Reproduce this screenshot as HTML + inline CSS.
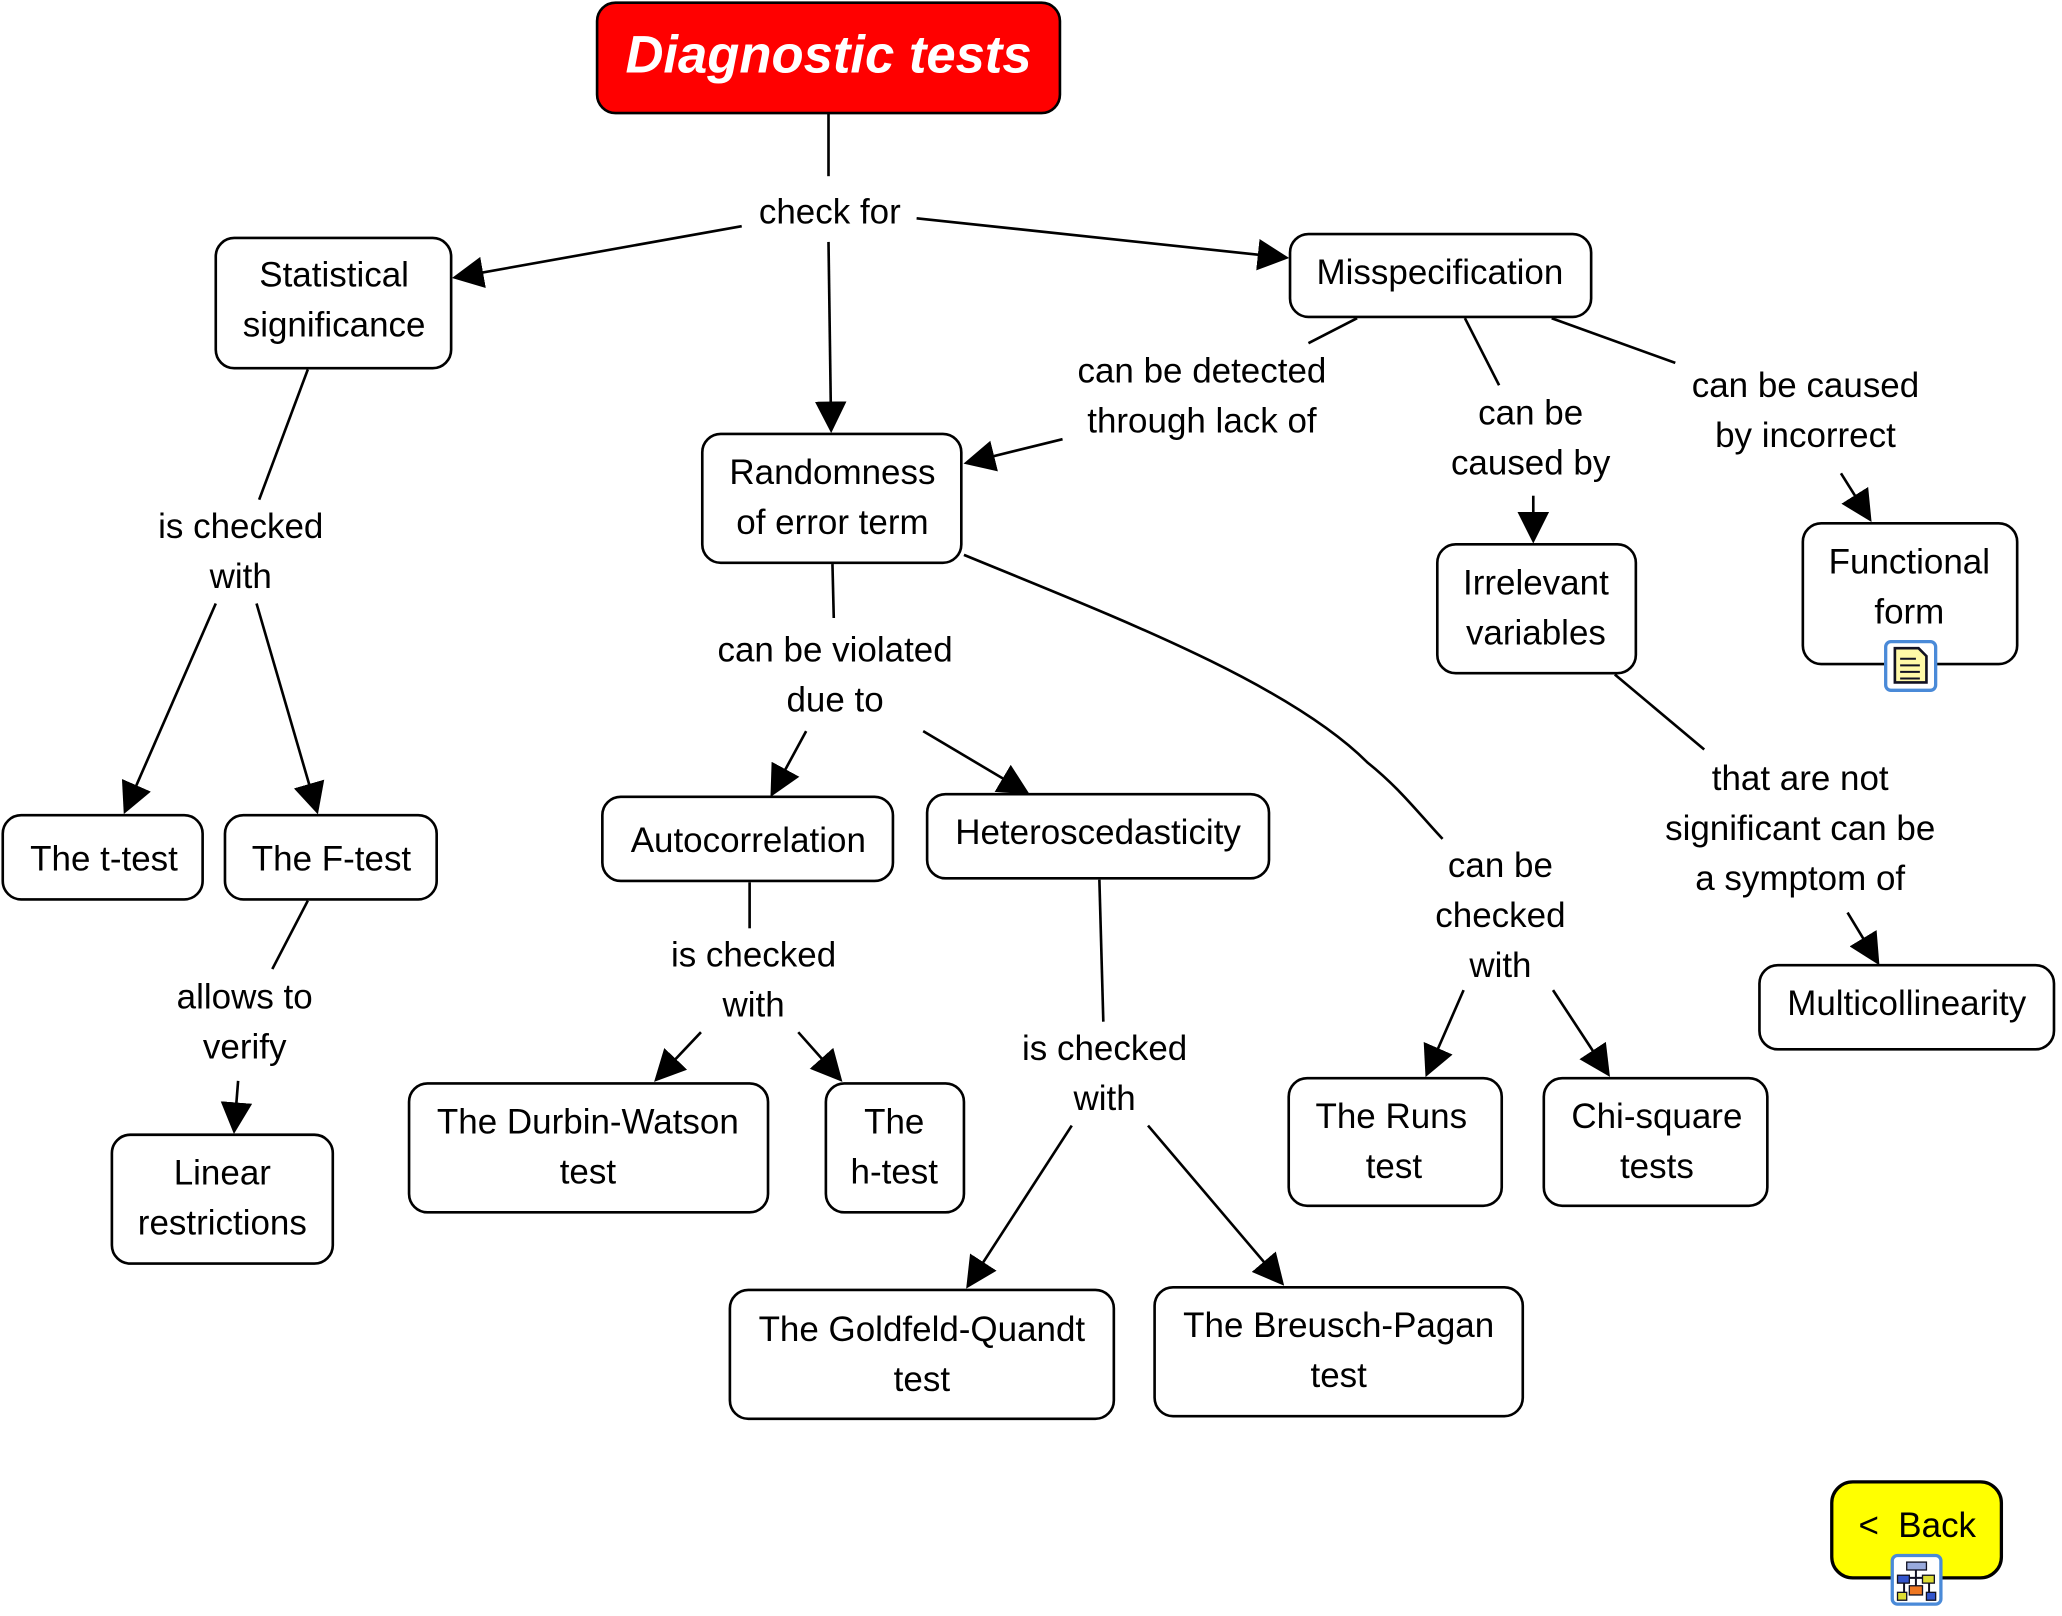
<!DOCTYPE html>
<html><head><meta charset="utf-8"><style>
html,body{margin:0;padding:0;background:#fff}
svg{display:block}
text{font-family:"Liberation Sans",Arial,sans-serif;font-size:26.6px;fill:#000;text-anchor:middle}
.b{fill:#fff;stroke:#000;stroke-width:2}
.l{stroke:#000;stroke-width:2;fill:none}
</style></head><body>
<svg width="2062" height="1616" viewBox="0 0 1568 1229" xmlns="http://www.w3.org/2000/svg">
<defs>
<marker id="A" viewBox="0 0 10 10" refX="9" refY="5" markerWidth="24" markerHeight="24" markerUnits="userSpaceOnUse" orient="auto"><path d="M0,0 L10,5 L0,10 z" fill="#000"/></marker></defs>
<g class="l">
<line x1="630" y1="86" x2="630" y2="134"/>
<line x1="564" y1="172" x2="346" y2="211" marker-end="url(#A)"/>
<line x1="697" y1="166" x2="978" y2="196" marker-end="url(#A)"/>
<line x1="630" y1="184" x2="632" y2="327" marker-end="url(#A)"/>
<line x1="234" y1="281" x2="197" y2="380"/>
<line x1="164" y1="459" x2="95" y2="617" marker-end="url(#A)"/>
<line x1="195" y1="459" x2="241" y2="617" marker-end="url(#A)"/>
<line x1="234" y1="685" x2="207" y2="737"/>
<line x1="181" y1="822" x2="178" y2="860" marker-end="url(#A)"/>
<line x1="1032" y1="242" x2="995" y2="261"/>
<line x1="808" y1="334" x2="735" y2="352" marker-end="url(#A)"/>
<line x1="1114" y1="242" x2="1140" y2="293"/>
<line x1="1166" y1="377" x2="1166" y2="411" marker-end="url(#A)"/>
<line x1="1180" y1="242" x2="1274" y2="276"/>
<line x1="1400" y1="360" x2="1422" y2="395" marker-end="url(#A)"/>
<line x1="1228" y1="513" x2="1296" y2="570"/>
<line x1="1405" y1="694" x2="1428" y2="732" marker-end="url(#A)"/>
<line x1="633" y1="429" x2="634" y2="470"/>
<line x1="613" y1="556" x2="587" y2="604" marker-end="url(#A)"/>
<line x1="702" y1="556" x2="781" y2="603" marker-end="url(#A)"/>
<path d="M733,422 C850,470 980,520 1040,580 C1065,600 1080,620 1097,638"/>
<line x1="570" y1="671" x2="570" y2="706"/>
<line x1="533" y1="785" x2="499" y2="821" marker-end="url(#A)"/>
<line x1="607" y1="785" x2="639" y2="821" marker-end="url(#A)"/>
<line x1="836" y1="669" x2="839" y2="777"/>
<line x1="815" y1="856" x2="736" y2="978" marker-end="url(#A)"/>
<line x1="873" y1="856" x2="975" y2="976" marker-end="url(#A)"/>
<line x1="1113" y1="753" x2="1085" y2="817" marker-end="url(#A)"/>
<line x1="1181" y1="753" x2="1223" y2="817" marker-end="url(#A)"/>
</g>
<rect x="454" y="2" width="352" height="84" rx="14" fill="#f00" stroke="#000" stroke-width="2"/>
<text x="630" y="55" style="font-size:40px;font-weight:bold;font-style:italic;fill:#fff">Diagnostic tests</text>
<rect class="b" x="164" y="181" width="179" height="99" rx="14"/>
<text x="254" y="218">Statistical</text><text x="254" y="256">significance</text>
<rect class="b" x="981" y="178" width="229" height="63" rx="14"/>
<text x="1095" y="216">Misspecification</text>
<rect class="b" x="534" y="330" width="197" height="98" rx="14"/>
<text x="633" y="368">Randomness</text><text x="633" y="406">of error term</text>
<rect class="b" x="1093" y="414" width="151" height="98" rx="14"/>
<text x="1168" y="452">Irrelevant</text><text x="1168" y="490">variables</text>
<rect class="b" x="1371" y="398" width="163" height="107" rx="14"/>
<text x="1452" y="436">Functional</text><text x="1452" y="474">form</text>
<rect class="b" x="2" y="620" width="152" height="64" rx="14"/><text x="79" y="662">The t-test</text>
<rect class="b" x="171" y="620" width="161" height="64" rx="14"/><text x="252" y="662">The F-test</text>
<rect class="b" x="85" y="863" width="168" height="98" rx="14"/>
<text x="169" y="901">Linear</text><text x="169" y="939">restrictions</text>
<rect class="b" x="458" y="606" width="221" height="64" rx="14"/><text x="569" y="648">Autocorrelation</text>
<rect class="b" x="705" y="604" width="260" height="64" rx="14"/><text x="835" y="642">Heteroscedasticity</text>
<rect class="b" x="311" y="824" width="273" height="98" rx="14"/>
<text x="447" y="862">The Durbin-Watson</text><text x="447" y="900">test</text>
<rect class="b" x="628" y="824" width="105" height="98" rx="14"/>
<text x="680" y="862">The</text><text x="680" y="900">h-test</text>
<rect class="b" x="555" y="981" width="292" height="98" rx="14"/>
<text x="701" y="1020">The Goldfeld-Quandt</text><text x="701" y="1058">test</text>
<rect class="b" x="878" y="979" width="280" height="98" rx="14"/>
<text x="1018" y="1017">The Breusch-Pagan</text><text x="1018" y="1055">test</text>
<rect class="b" x="980" y="820" width="162" height="97" rx="14"/>
<text x="1058" y="858">The Runs</text><text x="1060" y="896">test</text>
<rect class="b" x="1174" y="820" width="170" height="97" rx="14"/>
<text x="1260" y="858">Chi-square</text><text x="1260" y="896">tests</text>
<rect class="b" x="1338" y="734" width="224" height="64" rx="14"/><text x="1450" y="772">Multicollinearity</text>
<rect x="1393" y="1127" width="129" height="73" rx="16" fill="#ff0" stroke="#000" stroke-width="2.5"/>
<text x="1458" y="1169" xml:space="preserve">&lt;  Back</text>
<g>
<rect x="1434" y="488" width="38" height="37" rx="4" fill="#fff" stroke="#4a8ad8" stroke-width="2.5"/>
<path d="M1441,493 h18 l6,6 v20 h-24 z" fill="#fff9a8" stroke="#112" stroke-width="2"/>
<path d="M1445,501 h12 M1445,506 h15 M1445,511 h15 M1445,516 h15" stroke="#112" stroke-width="1.5"/>
<rect x="1439" y="1183" width="37" height="37" rx="4" fill="#fff" stroke="#4a8ad8" stroke-width="2.5"/>
<rect x="1450" y="1188" width="15" height="6" fill="#9ad" stroke="#112"/>
<path d="M1457,1194 v18 M1448,1200 v14 M1467,1200 v14 M1448,1200 h19" stroke="#112" stroke-width="1.5" fill="none"/>
<rect x="1443" y="1198" width="9" height="6" fill="#35c" stroke="#112"/>
<rect x="1462" y="1198" width="9" height="6" fill="#dd3" stroke="#112"/>
<rect x="1452" y="1206" width="10" height="7" fill="#e72" stroke="#112"/>
<rect x="1443" y="1211" width="7" height="6" fill="#dd3" stroke="#112"/>
<rect x="1465" y="1211" width="7" height="6" fill="#35c" stroke="#112"/>
</g>
<text x="631" y="170">check for</text>
<text x="183" y="409">is checked</text><text x="183" y="447">with</text>
<text x="186" y="767">allows to</text><text x="186" y="805">verify</text>
<text x="914" y="291">can be detected</text><text x="914" y="329">through lack of</text>
<text x="1164" y="323">can be</text><text x="1164" y="361">caused by</text>
<text x="1373" y="302">can be caused</text><text x="1373" y="340">by incorrect</text>
<text x="1369" y="601">that are not</text><text x="1369" y="639">significant can be</text><text x="1369" y="677">a symptom of</text>
<text x="635" y="503">can be violated</text><text x="635" y="541">due to</text>
<text x="573" y="735">is checked</text><text x="573" y="773">with</text>
<text x="840" y="806">is checked</text><text x="840" y="844">with</text>
<text x="1141" y="667">can be</text><text x="1141" y="705">checked</text><text x="1141" y="743">with</text>
</svg>
</body></html>
